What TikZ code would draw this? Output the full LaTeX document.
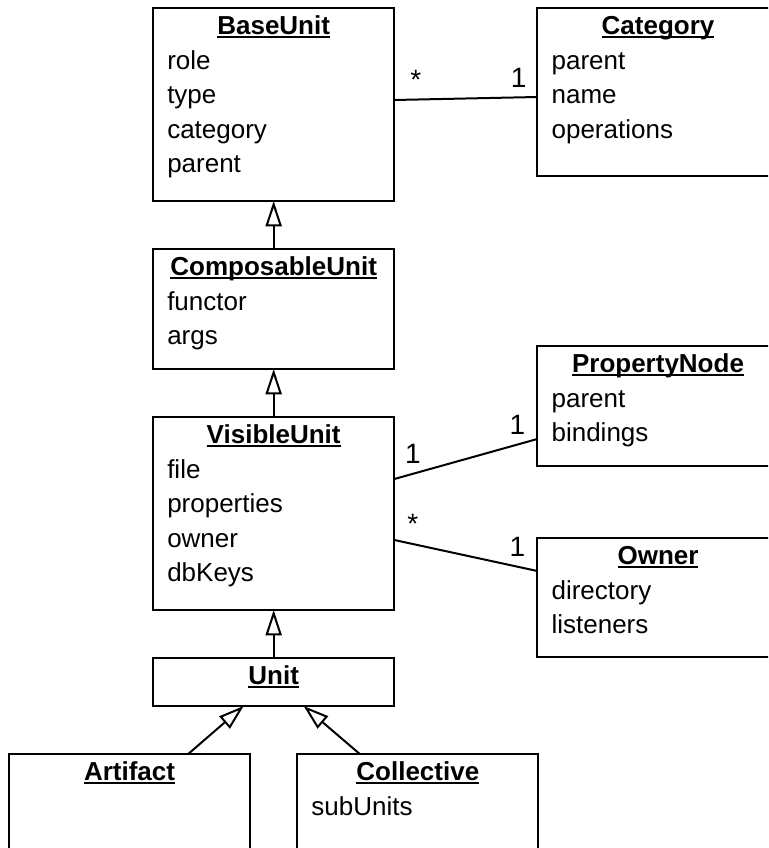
\documentclass[tikz,border=0pt]{standalone}
\usepackage{fontspec}
\setmainfont{Liberation Sans}
\usetikzlibrary{arrows.meta, positioning}
% bold class name with a flat underline below the baseline
\newcommand{\clsname}[1]{\setbox0\hbox{\textbf{#1}}\rlap{\rule[-2.5pt]{\wd0}{1.4pt}}\box0}
% attribute list, baseline on its first line
\newcommand{\attrlist}[1]{\begin{tabular}[t]{@{}l@{}}#1\end{tabular}}
\tikzset{classbox/.style={rectangle,draw,line width=1.5pt,outer sep=0pt,inner sep=0pt,anchor=north west,minimum width=181pt},
  title/.style={anchor=base,yshift=-20pt,inner sep=0pt,font=\fontsize{19.5pt}{25.9pt}\selectfont},
  attrs/.style={anchor=base west,xshift=10.5pt,yshift=-46pt,inner sep=0pt,font=\fontsize{19.5pt}{25.9pt}\selectfont},
  mult/.style={above=7pt,inner sep=0pt,font=\fontsize{21pt}{25.9pt}\selectfont},
  inherit/.style={line width=1.5pt,-{Triangle[open,length=19pt,width=12pt]}},
  assoc/.style={line width=1.5pt}}

\begin{document}
\begin{tikzpicture}[node distance=36pt and 107.25pt]
\path[use as bounding box, clip] (-114.75pt,6pt) rectangle (461.25pt,-630pt);
% main hierarchy
\node[classbox, minimum height=144.75pt, label={[title]above:\clsname{BaseUnit}}, label={[attrs]north west:\attrlist{role\\type\\category\\parent}}] (base) at (0,0) {};
\node[classbox, below=of base, minimum height=90pt, label={[title]above:\clsname{ComposableUnit}}, label={[attrs]north west:\attrlist{functor\\args}}] (comp) {};
\node[classbox, below=of comp, minimum height=144.75pt, label={[title]above:\clsname{VisibleUnit}}, label={[attrs]north west:\attrlist{file\\properties\\owner\\dbKeys}}] (vis) {};
\node[classbox, below=of vis, minimum height=36pt, label={[title]above:\clsname{Unit}}] (unit) {};
\node[classbox, below=36pt of unit.south, anchor=north east, xshift=-17.6pt, minimum height=71.5pt, label={[title]above:\clsname{Artifact}}] (art) {};
\node[classbox, below=36pt of unit.south, anchor=north west, xshift=17.6pt, minimum height=71.5pt, label={[title]above:\clsname{Collective}}, label={[attrs]north west:\attrlist{subUnits}}] (coll) {};
% associated classes
\node[classbox, right=of base.north east, anchor=north west, minimum height=126pt, label={[title]above:\clsname{Category}}, label={[attrs]north west:\attrlist{parent\\name\\operations}}] (cat) {};
\node[classbox, right=of vis.north east, anchor=north west, yshift=53.25pt, minimum height=90pt, label={[title]above:\clsname{PropertyNode}}, label={[attrs]north west:\attrlist{parent\\bindings}}] (prop) {};
\node[classbox, below=54pt of prop.south west, anchor=north west, minimum height=89.25pt, label={[title]above:\clsname{Owner}}, label={[attrs]north west:\attrlist{directory\\listeners}}] (owner) {};

\draw[inherit] (comp.north) -- (base.south);
\draw[inherit] (vis.north) -- (comp.south);
\draw[inherit] (unit.north) -- (vis.south);
\draw[inherit] ([xshift=-46.5pt]art.north east) -- ([xshift=-22.5pt]unit.south);
\draw[inherit] ([xshift=47pt]coll.north west) -- ([xshift=22.5pt]unit.south);

\draw[assoc] ([yshift=-69pt]base.north east) -- node[mult, pos=.15] {*} node[mult, pos=.87] {1} ([yshift=-66.75pt]cat.north west);
\draw[assoc] ([yshift=-46.5pt]vis.north east) -- node[mult, pos=.13] {1} node[mult, pos=.86] {1} ([yshift=-69.75pt]prop.north west);
\draw[assoc] ([yshift=-92.25pt]vis.north east) -- node[mult, pos=.13] {*} node[mult, pos=.86] {1} ([yshift=-24.75pt]owner.north west);
\end{tikzpicture}
\end{document}
